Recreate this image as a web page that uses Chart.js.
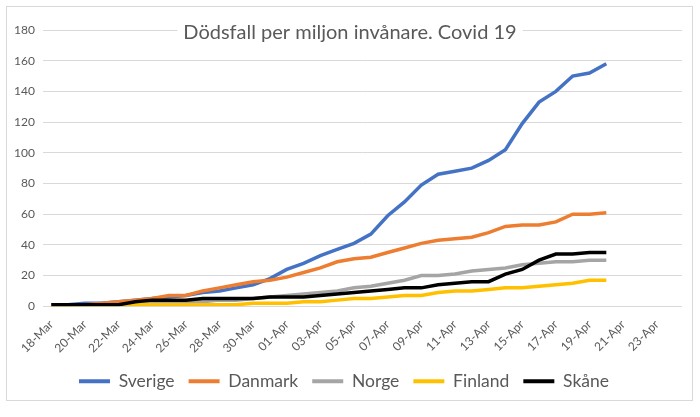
<!DOCTYPE html>
<html><head><meta charset="utf-8">
<script src="https://cdn.jsdelivr.net/npm/chart.js@4/dist/chart.umd.min.js"></script>
<style>html,body{margin:0;padding:0;background:#fff;}</style>
</head><body>
<canvas id="c" width="700" height="417"></canvas>
<script>
const dates = ["18-Mar","19-Mar","20-Mar","21-Mar","22-Mar","23-Mar","24-Mar","25-Mar","26-Mar","27-Mar","28-Mar","29-Mar","30-Mar","31-Mar",
  "01-Apr","02-Apr","03-Apr","04-Apr","05-Apr","06-Apr","07-Apr","08-Apr","09-Apr","10-Apr","11-Apr","12-Apr","13-Apr","14-Apr","15-Apr",
  "16-Apr","17-Apr","18-Apr","19-Apr","20-Apr","21-Apr","22-Apr","23-Apr","24-Apr"];
const sverige = [1,1,2,2,3,4,5,6,7,9,10,12,14,18,24,28,33,37,41,47,59,68,79,86,88,90,95,102,119,133,140,150,152,158];
const danmark = [1,1,1,2,3,4,5,7,7,10,12,14,16,17,19,22,25,29,31,32,35,38,41,43,44,45,48,52,53,53,55,60,60,61];
const norge   = [1,1,1,1,1,2,2,3,3,3,4,4,5,6,7,8,9,10,12,13,15,17,20,20,21,23,24,25,27,28,29,29,30,30];
const finland = [0,0,0,0,0,1,1,1,1,1,1,1,2,2,2,3,3,4,5,5,6,7,7,9,10,10,11,12,12,13,14,15,17,17];
const skane   = [1,1,1,1,1,3,4,4,4,5,5,5,5,6,6,6,7,8,9,10,11,12,12,14,15,16,16,21,24,30,34,34,35,35];
const seriesNames = ["Sverige","Danmark","Norge","Finland","Skåne"];
const seriesColors = ["#4472C4","#ED7D31","#A5A5A5","#FFC000","#000000"];
const seriesData = [sverige, danmark, norge, finland, skane];
const yTicksMax = 180, yStep = 20;
const titleText = "Dödsfall per miljon invånare. Covid 19";

const framePlugin = {
  id: 'frame',
  beforeDraw(chart) {
    const ctx = chart.ctx;
    ctx.save();
    ctx.fillStyle = '#fff';
    ctx.fillRect(0, 0, chart.width, chart.height);
    ctx.strokeStyle = '#d9d9d9';
    ctx.lineWidth = 1;
    ctx.strokeRect(6.5, 6.5, 686, 394);
    ctx.restore();
  },
  afterDraw(chart) {
    const ctx = chart.ctx;
    ctx.save();
    ctx.font = '20px Lato';
    const w = ctx.measureText(titleText).width;
    const cx = 350, cy = 33;
    ctx.fillStyle = '#fff';
    ctx.fillRect(cx - w / 2 - 6, cy - 13, w + 12, 26);
    ctx.fillStyle = '#595959';
    ctx.textAlign = 'center';
    ctx.textBaseline = 'middle';
    ctx.fillText(titleText, cx, cy);
    ctx.restore();
  }
};

const n = seriesNames.length;
new Chart(document.getElementById('c'), {
  type: 'line',
  data: {
    labels: dates,
    datasets: seriesNames.map((name, i) => ({
      label: name,
      data: seriesData[i],
      borderColor: seriesColors[i],
      backgroundColor: seriesColors[i],
      borderWidth: 3.5,
      pointRadius: 0,
      tension: 0,
      fill: false,
      order: n - i
    }))
  },
  options: {
    responsive: false,
    animation: false,
    devicePixelRatio: 1,
    layout: { padding: { left: 6, right: 18, top: 30, bottom: 17 } },
    plugins: {
      title: { display: false },
      tooltip: { enabled: false },
      legend: {
        position: 'bottom',
        labels: {
          boxWidth: 31,
          boxHeight: 4,
          padding: 14,
          color: '#595959',
          font: { family: 'Lato', size: 17.5 },
          sort: (a, b) => a.datasetIndex - b.datasetIndex,
          generateLabels: (chart) => Chart.defaults.plugins.legend.labels.generateLabels(chart)
            .map(l => Object.assign(l, { lineWidth: 0, fillStyle: l.strokeStyle }))
        }
      }
    },
    scales: {
      x: {
        offset: true,
        grid: { display: false },
        border: { display: false },
        ticks: {
          autoSkip: false,
          maxRotation: 45,
          minRotation: 45,
          color: '#595959',
          font: { family: 'Lato', size: 12 },
          padding: 3,
          callback: (v, i) => (i % 2 === 0 ? dates[i] : '')
        }
      },
      y: {
        min: 0,
        max: yTicksMax,
        border: { display: false },
        grid: { color: '#d9d9d9', drawTicks: false },
        ticks: {
          stepSize: yStep,
          padding: 8,
          color: '#595959',
          font: { family: 'Lato', size: 12 }
        }
      }
    }
  },
  plugins: [framePlugin]
});
</script>
</body></html>
